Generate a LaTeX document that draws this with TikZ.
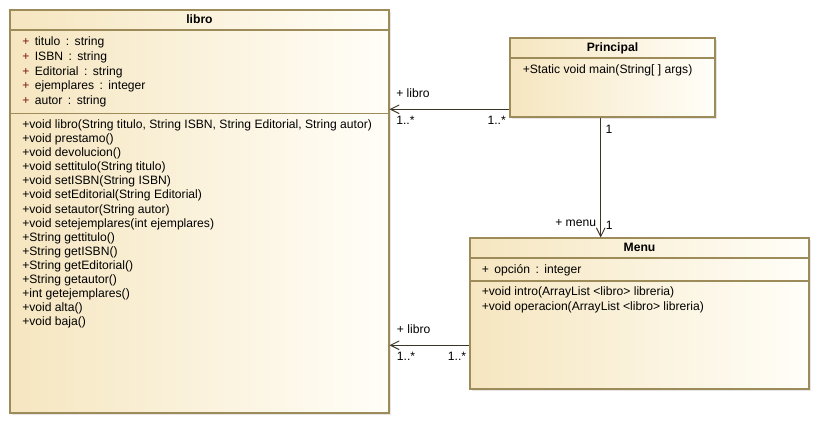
\documentclass[tikz,border=0pt]{standalone}
\usepackage{fontspec}
\setmainfont{Liberation Sans}
\usetikzlibrary{arrows.meta,fit,shadows}
\definecolor{umlborder}{HTML}{9E8B5A}
\definecolor{umlleft}{HTML}{F6E6C0}
\definecolor{umlright}{HTML}{FFFEF8}
\definecolor{umlline}{HTML}{3C3426}
\definecolor{plusred}{HTML}{7A1212}
\tikzset{
  classbox/.style={draw=umlborder, line width=0.8pt, inner sep=0pt, left color=umlleft, right color=umlright,
    drop shadow={shadow xshift=1.5pt, shadow yshift=-1.5pt, opacity=0.25, fill=black!40}},
  sep/.style={draw=umlborder, line width=0.8pt},
  classname/.style={anchor=base, font=\fontsize{9.1}{10}\selectfont\bfseries, inner sep=0pt},
  member/.style={anchor=base west, font=\fontsize{9.1}{10}\selectfont, inner sep=0pt},
  assoc/.style={draw=umlline, line width=0.8pt, -{Straight Barb[length=6.5pt, width=6.5pt, line width=0.7pt]}},
}
\newcommand{\plus}{\textcolor{plusred}{+}}
\newcommand{\gap}{\hspace{0.45em}}
\begin{document}
\begin{tikzpicture}[x=0.75pt, y=-0.75pt]
  \useasboundingbox (0,0) rectangle (821,427);

  % clase libro
  \node[classbox, fit={(10,10) (389,413)}] (libro) {};
  \draw[sep] (libro.west |- 0,30) -- (libro.east |- 0,30);
  \draw[sep] (libro.west |- 0,113.5) -- (libro.east |- 0,113.5);
  \node[classname] (libroname) at (199.5,24) {libro};
  \foreach \n/\t [count=\i] in {titulo/string, ISBN/string, Editorial/string, ejemplares/integer, autor/string}
    \node[member] (la\i) at (22,45.6+\i*14.8-14.8) {\plus\gap\n\gap:\gap\t};
  \foreach \t [count=\i] in {{+void libro(String titulo, String ISBN, String Editorial, String autor)},
      +void prestamo(), +void devolucion(), +void settitulo(String titulo), +void setISBN(String ISBN),
      +void setEditorial(String Editorial), +void setautor(String autor), +void setejemplares(int ejemplares),
      +String gettitulo(), +String getISBN(), +String getEditorial(), +String getautor(),
      +int getejemplares(), +void alta(), +void baja()}
    \node[member] (lm\i) at (22,128.5+\i*14.1-14.1) {\t};

  % clase Principal
  \node[classbox, fit={(510,38) (715,117)}] (principal) {};
  \draw[sep] (principal.west |- 0,58) -- (principal.east |- 0,58);
  \node[classname] (principalname) at (612.5,51.5) {Principal};
  \node[member] (pm1) at (522.5,73.6) {+Static void main(String[ ] args)};

  % clase Menu
  \node[classbox, fit={(470,238) (809,389)}] (menu) {};
  \draw[sep] (menu.west |- 0,258) -- (menu.east |- 0,258);
  \draw[sep] (menu.west |- 0,281) -- (menu.east |- 0,281);
  \node[classname] (menuname) at (639.5,251.5) {Menu};
  \node[member] (ma1) at (481.5,273.8) {+\gap opción\gap:\gap integer};
  \node[member] (mm1) at (481.5,295.6) {+void intro(ArrayList <libro> libreria)};
  \node[member] (mm2) at (481.5,310.9) {+void operacion(ArrayList <libro> libreria)};

  % asociaciones
  \coordinate (pl) at (principal.west |- 0,109.3);
  \draw[assoc] (pl) -- (pl -| libro.east);
  \node[member] (plrole) at (396,98) {+ libro};
  \node[member] (plmul1) at (396,125) {1..*};
  \node[member] (plmul2) at (487.3,125) {1..*};

  \coordinate (pm) at (principal.south -| 600.7,0);
  \draw[assoc] (pm) -- (pm |- menu.north);
  \node[member] (pmmul1) at (605.3,134) {1};
  \node[member] (pmrole) at (555,227) {+ menu};
  \node[member] (pmmul2) at (605.7,230) {1};

  \coordinate (ml) at (menu.west |- 0,345.3);
  \draw[assoc] (ml) -- (ml -| libro.east);
  \node[member] (mlrole) at (396.7,334) {+ libro};
  \node[member] (mlmul1) at (396.7,361) {1..*};
  \node[member] (mlmul2) at (447.7,361) {1..*};
\end{tikzpicture}
\end{document}
